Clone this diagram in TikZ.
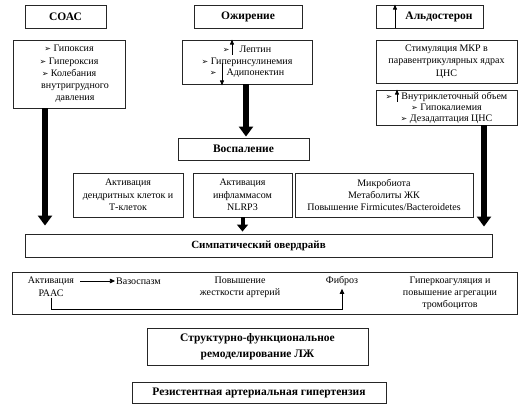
\documentclass[tikz,border=0pt]{standalone}
\usepackage{fontspec}
\setmainfont{Liberation Serif}
\newfontfamily\dejavu{DejaVu Sans}
\usetikzlibrary{arrows.meta,calc}
\newcommand{\bul}{{\dejavu\fontsize{8}{8}\selectfont ➢}}
\begin{document}
\begin{tikzpicture}[x=1pt,y=-1pt,
  box/.style={draw=black!85, line width=0.9pt, inner sep=0pt, align=center, font=\fontsize{10}{12.3}\selectfont},
  titlebox/.style={box, font=\bfseries\fontsize{11.5}{16}\selectfont},
  txt/.style={inner sep=1pt, align=center, font=\fontsize{10}{12}\selectfont},
  bigarrow/.style={line width=5.5pt, -{Triangle[width=14pt,length=10pt]}},
  midarrow/.style={line width=4pt, -{Triangle[width=11pt,length=7pt]}},
  thinarrow/.style={line width=0.6pt, -{Triangle[width=4.5pt,length=5pt]}},
  inarrow/.style={line width=0.8pt, -{Triangle[width=4pt,length=5pt]}}]
\useasboundingbox (0,0) rectangle (527,414);
% top titles
\node[titlebox, minimum width=81pt, minimum height=23pt] (soast) at (65.5,16.5) {СОАС};
\node[titlebox, minimum width=108pt, minimum height=23pt] (obest) at (248,16.5) {Ожирение};
\node[titlebox, minimum width=107pt, minimum height=23pt] (aldot) at (429.5,16.5) {};
\node[inner sep=0pt, font=\bfseries\fontsize{11.5}{13}\selectfont] (aldotxt) at (439,16.5) {Альдостерон};
\coordinate (aldoax) at (395,0);
\draw[inarrow] (aldot.south -| aldoax) -- (aldot.north -| aldoax);
% content boxes
\node[box, minimum width=112pt, minimum height=68pt] (soasc) at (69,74)
  {\bul\ Гипоксия\\ \bul\ Гипероксия\\ \bul\ Колебания\\ \hspace{12pt}внутригрудного\\ \hspace{12pt}давления};
\node[box, minimum width=130pt, minimum height=44pt, font=\fontsize{10}{11.5}\selectfont] (obesc) at (247,62)
  {\bul\hspace{10pt}Лептин\\ \bul\ Гиперинсулинемия\\ \bul\hspace{10pt}Адипонектин};
\coordinate (upax) at (232,55);
\coordinate (dnax) at (222,63);
\draw[inarrow] (upax) -- (upax |- obesc.north);
\draw[inarrow] (dnax) -- ($(dnax |- obesc.south)+(0,1)$);
\node[box, minimum width=141pt, minimum height=43pt] (stim) at (446.5,61.5)
  {Стимуляция МКР в\\ паравентрикулярных ядрах\\ ЦНС};
\node[box, minimum width=141pt, minimum height=35pt, font=\fontsize{10}{11}\selectfont] (intra) at (446.5,107.5)
  {\bul\hspace{9pt}Внутриклеточный объем\\ \bul\ Гипокалиемия\\ \bul\ Дезадаптация ЦНС};
\coordinate (intrax) at (397,102);
\draw[inarrow] (intrax) -- (intrax |- intra.north);
% inflammation
\node[titlebox, minimum width=131pt, minimum height=22pt] (infl) at (243.5,149) {Воспаление};
\node[box, minimum width=110pt, minimum height=44pt] (dendr) at (128,195)
  {Активация\\ дендритных клеток и\\ Т-клеток};
\node[box, minimum width=99pt, minimum height=44pt] (nlrp) at (242.5,195)
  {Активация\\ инфламмасом\\ NLRP3};
\node[box, minimum width=178pt, minimum height=44pt] (micro) at (384,195)
  {Микробиота\\ Метаболиты ЖК\\ Повышение Firmicutes/Bacteroidetes};
\node[titlebox, font=\bfseries\fontsize{11}{13}\selectfont, minimum width=467pt, minimum height=23pt] (symp) at (258.5,245.5) {Симпатический овердрайв};
% thick arrows
\coordinate (ax1) at (45,0);
\coordinate (ax2) at (246,0);
\coordinate (ax3) at (484,0);
\draw[bigarrow] (soasc.south -| ax1) -- ($(symp.north -| ax1)+(0,-8)$);
\draw[bigarrow] (obesc.south -| ax2) -- ($(infl.north -| ax2)+(0,-1)$);
\draw[bigarrow] (intra.south -| ax3) -- ($(symp.north -| ax3)+(0,-7)$);
\draw[midarrow] (nlrp.south) -- ($(symp.north -| nlrp.south)+(0,-2)$);
% bottom box
\node[box, minimum width=505pt, minimum height=42pt] (bottom) at (264.5,293) {};
\node[txt] (act) at (51,281) {Активация};
\node[txt] (raas) at (51,293) {РААС};
\node[txt] (vaso) at (138.5,281) {Вазоспазм};
\node[txt] (stiff) at (240,287) {Повышение\\ жесткости артерий};
\node[txt] (fib) at (342,281) {Фиброз};
\node[txt] (hyper) at (450,293) {Гиперкоагуляция и\\ повышение агрегации\\ тромбоцитов};
\coordinate (corner) at (342,309);
\draw[thinarrow, shorten <=5pt] (act.east) -- (vaso.west);
\draw[thinarrow] (raas.south) |- (corner) -- ($(fib.south)+(0,2)$);
% lower boxes
\node[titlebox, minimum width=221pt, minimum height=37pt] (struct) at (257.5,346.5)
  {Структурно-функциональное\\ ремоделирование ЛЖ};
\node[titlebox, minimum width=254pt, minimum height=21pt] (resist) at (259,392.5)
  {Резистентная артериальная гипертензия};
\end{tikzpicture}
\end{document}
